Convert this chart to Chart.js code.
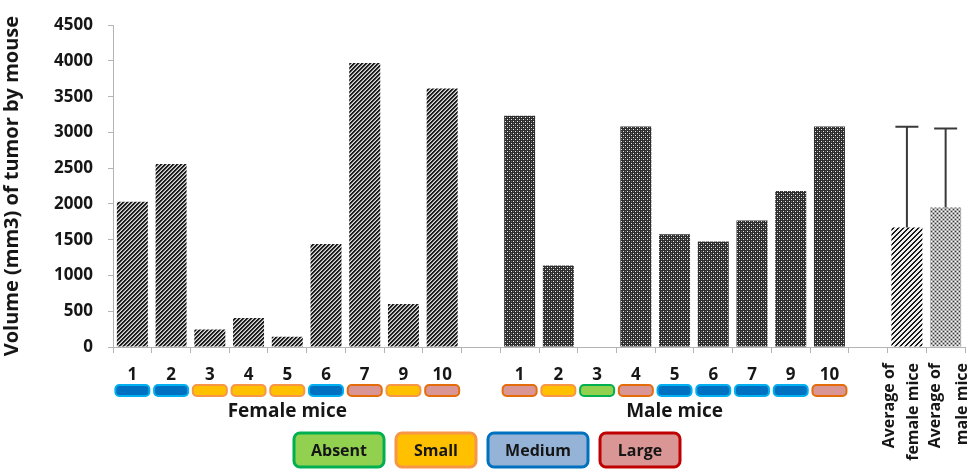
<!DOCTYPE html>
<html>
<head>
<meta charset="utf-8">
<script src="https://cdn.jsdelivr.net/npm/chart.js@4.4.0/dist/chart.umd.min.js"></script>
<style>
  html, body { margin: 0; padding: 0; background: #fff; }
  #wrap { width: 974px; height: 470px; position: relative; }
</style>
</head>
<body>
<div id="wrap"><canvas id="c" width="974" height="470"></canvas></div>
<script>
// Tumour volume per mouse (mm3)
const femaleMice = ['1', '2', '3', '4', '5', '6', '7', '9', '10'];
const femaleVolumes = [2030, 2560, 245, 405, 145, 1440, 3970, 600, 3615];
const femaleSizes = ['Medium', 'Medium', 'Small', 'Small', 'Small', 'Medium', 'Large', 'Small', 'Large'];

const maleMice = ['1', '2', '3', '4', '5', '6', '7', '9', '10'];
const maleVolumes = [3235, 1140, 0, 3085, 1575, 1475, 1770, 2180, 3085];
const maleSizes = ['Large', 'Small', 'Absent', 'Large', 'Medium', 'Medium', 'Medium', 'Medium', 'Large'];

const averageLabels = [['Average of', 'female mice'], ['Average of', 'male mice']];
const averageVolumes = [1670, 1950];
const averageSD = [1410, 1105];

const yTickValues = [0, 500, 1000, 1500, 2000, 2500, 3000, 3500, 4000, 4500];
const groupTitles = ['Female mice', 'Male mice'];
const sizeClasses = ['Absent', 'Small', 'Medium', 'Large'];

const FONT = '"Open Sans", "DejaVu Sans", sans-serif';
const TEXT = '#161616';

// small tags under each mouse number
const tagStyle = {
  Absent: { fill: '#92d050', stroke: '#00b050' },
  Small:  { fill: '#ffc000', stroke: '#f79646' },
  Medium: { fill: '#0070c0', stroke: '#00b0f0' },
  Large:  { fill: '#d99694', stroke: '#e46c0a' }
};
// key boxes at the bottom
const keyStyle = {
  Absent: { fill: '#92d050', stroke: '#00b050', w: 90 },
  Small:  { fill: '#ffc000', stroke: '#f79646', w: 80 },
  Medium: { fill: '#95b3d7', stroke: '#0070c0', w: 100 },
  Large:  { fill: '#d99694', stroke: '#c00000', w: 80 }
};
// horizontal shift of each two-line caption under the average bars
const captionShift = [[-17, 7], [-10, 17]];

// pixel-tile fill patterns
function makePattern(size, shade) {
  const c = document.createElement('canvas');
  c.width = size; c.height = size;
  const g = c.getContext('2d');
  const img = g.createImageData(size, size);
  for (let y = 0; y < size; y++) {
    for (let x = 0; x < size; x++) {
      const v = shade(x, y);
      const i = (y * size + x) * 4;
      img.data[i] = v; img.data[i + 1] = v; img.data[i + 2] = v; img.data[i + 3] = 255;
    }
  }
  g.putImageData(img, 0, 0);
  return g.createPattern(c, 'repeat');
}
const hatchFemale = makePattern(4, (x, y) => {
  const k = (x + y) % 4;
  return k < 2 ? 28 : (k === 2 ? 150 : 220);
});
const hatchFemaleAvg = makePattern(5, (x, y) => ((x + y) % 5 < 2 ? 25 : 240));
const dotsMale = makePattern(4, (x, y) => {
  if ((x === 1 && y === 1) || (x === 3 && y === 3)) return 235;
  if ((x === 1 && y === 3) || (x === 3 && y === 1)) return 105;
  return 45;
});
const dotsMaleAvg = makePattern(4, (x, y) => {
  if ((x === 1 && y === 1) || (x === 3 && y === 3)) return 60;
  if ((x === 1 && y === 3) || (x === 3 && y === 1)) return 250;
  return 175;
});

// assemble categories: females, gap, males, gap, two averages
const labels = [...femaleMice, '', ...maleMice, '', averageLabels[0].join(' '), averageLabels[1].join(' ')];
const values = [...femaleVolumes, null, ...maleVolumes, null, ...averageVolumes];
const fills = [
  ...femaleVolumes.map(() => hatchFemale), 'rgba(0,0,0,0)',
  ...maleVolumes.map(() => dotsMale), 'rgba(0,0,0,0)',
  hatchFemaleAvg, dotsMaleAvg
];
const femaleIdx = femaleMice.map((_, i) => i);
const maleIdx = maleMice.map((_, i) => i + femaleMice.length + 1);
const avgIdx = [labels.length - 2, labels.length - 1];

function roundRect(ctx, x, y, w, h, r) {
  ctx.beginPath();
  ctx.moveTo(x + r, y);
  ctx.lineTo(x + w - r, y);
  ctx.arcTo(x + w, y, x + w, y + r, r);
  ctx.lineTo(x + w, y + h - r);
  ctx.arcTo(x + w, y + h, x + w - r, y + h, r);
  ctx.lineTo(x + r, y + h);
  ctx.arcTo(x, y + h, x, y + h - r, r);
  ctx.lineTo(x, y + r);
  ctx.arcTo(x, y, x + r, y, r);
  ctx.closePath();
}

// upper standard-deviation whiskers on the average bars
const errorBars = {
  id: 'errorBars',
  afterDatasetsDraw(chart) {
    const { ctx, scales: { x, y } } = chart;
    ctx.save();
    ctx.strokeStyle = '#3a3a3a';
    ctx.lineWidth = 2;
    avgIdx.forEach((idx, k) => {
      const cx = x.getPixelForValue(idx);
      const y0 = y.getPixelForValue(averageVolumes[k]);
      const y1 = y.getPixelForValue(averageVolumes[k] + averageSD[k]);
      ctx.beginPath();
      ctx.moveTo(cx, y0);
      ctx.lineTo(cx, y1);
      ctx.moveTo(cx - 11.5, y1);
      ctx.lineTo(cx + 11.5, y1);
      ctx.stroke();
    });
    ctx.restore();
  }
};

// size tags, group titles, average captions and the size key
const annotations = {
  id: 'annotations',
  afterDraw(chart) {
    const { ctx, scales: { x } } = chart;
    ctx.save();

    const drawTag = (idx, size) => {
      const s = tagStyle[size];
      const cx = x.getPixelForValue(idx);
      roundRect(ctx, cx - 17, 385, 34, 11, 4);
      ctx.fillStyle = s.fill;
      ctx.fill();
      ctx.lineWidth = 2;
      ctx.strokeStyle = s.stroke;
      ctx.stroke();
    };
    femaleIdx.forEach((idx, i) => drawTag(idx, femaleSizes[i]));
    maleIdx.forEach((idx, i) => drawTag(idx, maleSizes[i]));

    ctx.fillStyle = TEXT;
    ctx.font = 'bold 19px ' + FONT;
    ctx.textAlign = 'center';
    ctx.textBaseline = 'middle';
    [femaleIdx, maleIdx].forEach((group, g) => {
      const cx = (x.getPixelForValue(group[0]) + x.getPixelForValue(group[group.length - 1])) / 2;
      ctx.fillText(groupTitles[g], cx, 412);
    });

    ctx.font = 'bold 16px ' + FONT;
    avgIdx.forEach((idx, k) => {
      const cx = x.getPixelForValue(idx);
      ctx.save();
      ctx.translate(cx, 363);
      ctx.rotate(-Math.PI / 2);
      ctx.textAlign = 'right';
      ctx.textBaseline = 'middle';
      ctx.fillText(averageLabels[k][0], 0, captionShift[k][0]);
      ctx.fillText(averageLabels[k][1], 0, captionShift[k][1]);
      ctx.restore();
    });

    let left = 294;
    ctx.font = 'bold 16px ' + FONT;
    ctx.textAlign = 'center';
    sizeClasses.forEach(name => {
      const s = keyStyle[name];
      roundRect(ctx, left, 433, s.w, 34, 6);
      ctx.fillStyle = s.fill;
      ctx.fill();
      ctx.lineWidth = 3;
      ctx.strokeStyle = s.stroke;
      ctx.stroke();
      ctx.fillStyle = TEXT;
      ctx.fillText(name, left + s.w / 2, 451);
      left += s.w + 12;
    });
    ctx.restore();
  }
};

new Chart(document.getElementById('c'), {
  type: 'bar',
  data: {
    labels: labels,
    datasets: [{
      data: values,
      backgroundColor: fills,
      borderWidth: 0,
      barPercentage: 0.8,
      categoryPercentage: 1.0
    }]
  },
  options: {
    responsive: false,
    animation: false,
    devicePixelRatio: 1,
    layout: { padding: { top: 18, right: 9, bottom: 0, left: 0 } },
    plugins: { legend: { display: false }, tooltip: { enabled: false } },
    scales: {
      x: {
        afterFit(scale) { scale.height = 123; },
        grid: { display: true, drawOnChartArea: false, tickLength: 6, color: '#b4b4b4', offset: true },
        border: { display: true, color: '#b4b4b4', width: 1 },
        ticks: {
          autoSkip: false, maxRotation: 0, minRotation: 0, padding: 12,
          color: TEXT,
          font: { family: FONT, size: 17, weight: 'bold' },
          callback(v, i) { return avgIdx.includes(i) ? '' : this.getLabelForValue(v); }
        }
      },
      y: {
        min: yTickValues[0],
        max: yTickValues[yTickValues.length - 1],
        afterFit(scale) { scale.width = 113; },
        afterBuildTicks(scale) { scale.ticks = yTickValues.map(v => ({ value: v })); },
        grid: { display: true, drawOnChartArea: false, tickLength: 5, color: '#b4b4b4' },
        border: { display: true, color: '#b4b4b4', width: 1 },
        ticks: {
          padding: 15,
          color: TEXT,
          font: { family: FONT, size: 17, weight: 'bold' },
          callback(v) { return String(v); }
        },
        title: {
          display: true,
          text: 'Volume (mm3) of tumor by mouse',
          color: TEXT,
          font: { family: FONT, size: 20, weight: 'bold' },
          padding: { top: 0, bottom: 0 }
        }
      }
    }
  },
  plugins: [errorBars, annotations]
});
</script>
</body>
</html>
